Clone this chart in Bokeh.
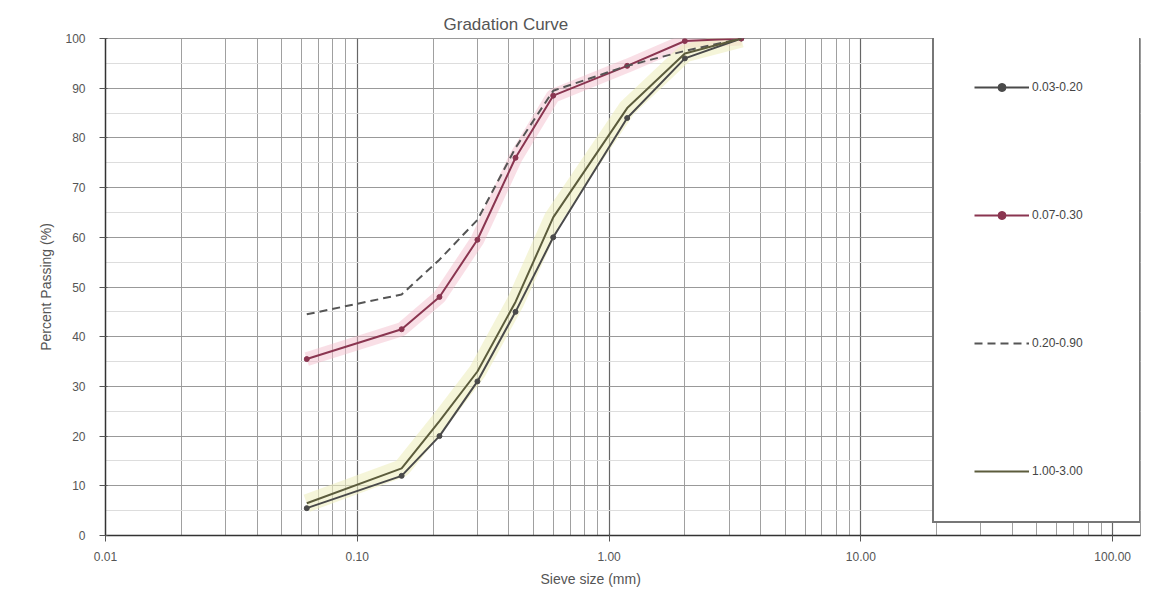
from bokeh.plotting import figure
from bokeh.models import FixedTicker, Legend, LegendItem, Title
from bokeh.embed import file_html
from bokeh.resources import INLINE

# ---- data ----
sieve_mm = [0.063, 0.15, 0.212, 0.3, 0.425, 0.6, 1.18, 2.0, 3.35]
pass_a = [5.5, 12, 20, 31, 45, 60, 84, 96, 100]          # 0.03-0.20
pass_b = [35.5, 41.5, 48, 59.5, 76, 88.5, 94.5, 99.5, 100]  # 0.07-0.30
pass_c = [44.5, 48.5, 55.5, 63.5, 78, 89.5, 94.5, 97.5, 100]  # 0.20-0.90
pass_d = [6.5, 13.5, 23, 33, 47, 64, 86, 97, 100]        # 1.00-3.00
series_labels = ["0.03-0.20", "0.07-0.30", "0.20-0.90", "1.00-3.00"]
x_ticks = [0.01, 0.1, 1, 10, 100]
x_tick_labels = ["0.01", "0.10", "1.00", "10.00", "100.00"]
y_ticks = [0, 10, 20, 30, 40, 50, 60, 70, 80, 90, 100]

FONT = "Liberation Sans"

p = figure(width=1144, height=591, x_axis_type="log",
           x_range=(0.01, 129), y_range=(0, 100),
           output_backend="svg", toolbar_location=None,
           min_border_left=105, min_border_right=4,
           min_border_top=38, min_border_bottom=51,
           background_fill_color="white", border_fill_color="white")
p.outline_line_color = "#9a9a9a"

# title (placed over the plotting part left of the legend)
p.title.text = "Gradation Curve"
p.title.align = "left"
p.title.offset = 338
p.title.text_font = FONT
p.title.text_font_size = "17px"
p.title.text_font_style = "normal"
p.title.text_color = "#555555"

# axes
p.xaxis.ticker = FixedTicker(ticks=x_ticks,
                             minor_ticks=[m * 10 ** e for e in range(-2, 3) for m in range(2, 10)])
p.xaxis.major_label_overrides = {t: l for t, l in zip(x_ticks, x_tick_labels)}
p.yaxis.ticker = FixedTicker(ticks=y_ticks, minor_ticks=[v + 5 for v in y_ticks[:-1]])
for ax in (p.xaxis[0], p.yaxis[0]):
    ax.axis_line_color = "#333333"
    ax.axis_line_width = 1.5
    ax.major_tick_line_color = "#555555"
    ax.minor_tick_line_color = None
    ax.major_label_text_font = FONT
    ax.major_label_text_font_size = "12px"
    ax.major_label_text_color = "#555555"
    ax.axis_label_text_font = FONT
    ax.axis_label_text_font_size = "14px"
    ax.axis_label_text_font_style = "normal"
    ax.axis_label_text_color = "#555555"
p.yaxis.major_label_standoff = 14
p.xaxis.major_label_standoff = 10
p.yaxis.axis_label = "Percent Passing (%)"
p.yaxis.axis_label_standoff = 8
p.add_layout(Title(text="Sieve size (mm)", align="left", offset=435,
                   text_font=FONT, text_font_size="14px",
                   text_font_style="normal", text_color="#555555"), "below")

# grid
p.xgrid.grid_line_color = "#666666"
p.xgrid.grid_line_width = 1.2
p.xgrid.minor_grid_line_color = "#a0a0a0"
p.ygrid.grid_line_color = "#999999"
p.ygrid.minor_grid_line_color = "#dddddd"

# soft halos seen around some curves
p.line(sieve_mm, pass_b, line_color="#f2b8c8", line_width=14, line_alpha=0.45)
p.line(sieve_mm, pass_d, line_color="#eeeec0", line_width=18, line_alpha=0.6)

# series
ra = p.line(sieve_mm, pass_a, line_color="#4a4a4a", line_width=2)
ra_m = p.scatter(sieve_mm, pass_a, size=5, fill_color="#4a4a4a", line_color="#4a4a4a")
rb = p.line(sieve_mm, pass_b, line_color="#8a3550", line_width=2)
rb_m = p.scatter(sieve_mm, pass_b, size=5, fill_color="#8a3550", line_color="#8a3550")
rc = p.line(sieve_mm, pass_c, line_color="#555555", line_width=2, line_dash="8 5")
rd = p.line(sieve_mm, pass_d, line_color="#5c5c3c", line_width=2)

legend = Legend(items=[
    LegendItem(label=series_labels[0], renderers=[ra, ra_m]),
    LegendItem(label=series_labels[1], renderers=[rb, rb_m]),
    LegendItem(label=series_labels[2], renderers=[rc]),
    LegendItem(label=series_labels[3], renderers=[rd]),
], location=(827, 12), orientation="vertical",
    padding=40, spacing=108, margin=0,
    glyph_width=55, glyph_height=20, label_height=20, label_width=67, label_standoff=3,
    label_text_font=FONT, label_text_font_size="12px", label_text_color="#444444",
    border_line_color="#777777", border_line_width=2, border_line_alpha=1.0,
    background_fill_color="white", background_fill_alpha=1.0)
p.add_layout(legend, "center")

open("out.html", "w").write(file_html(p, INLINE))
